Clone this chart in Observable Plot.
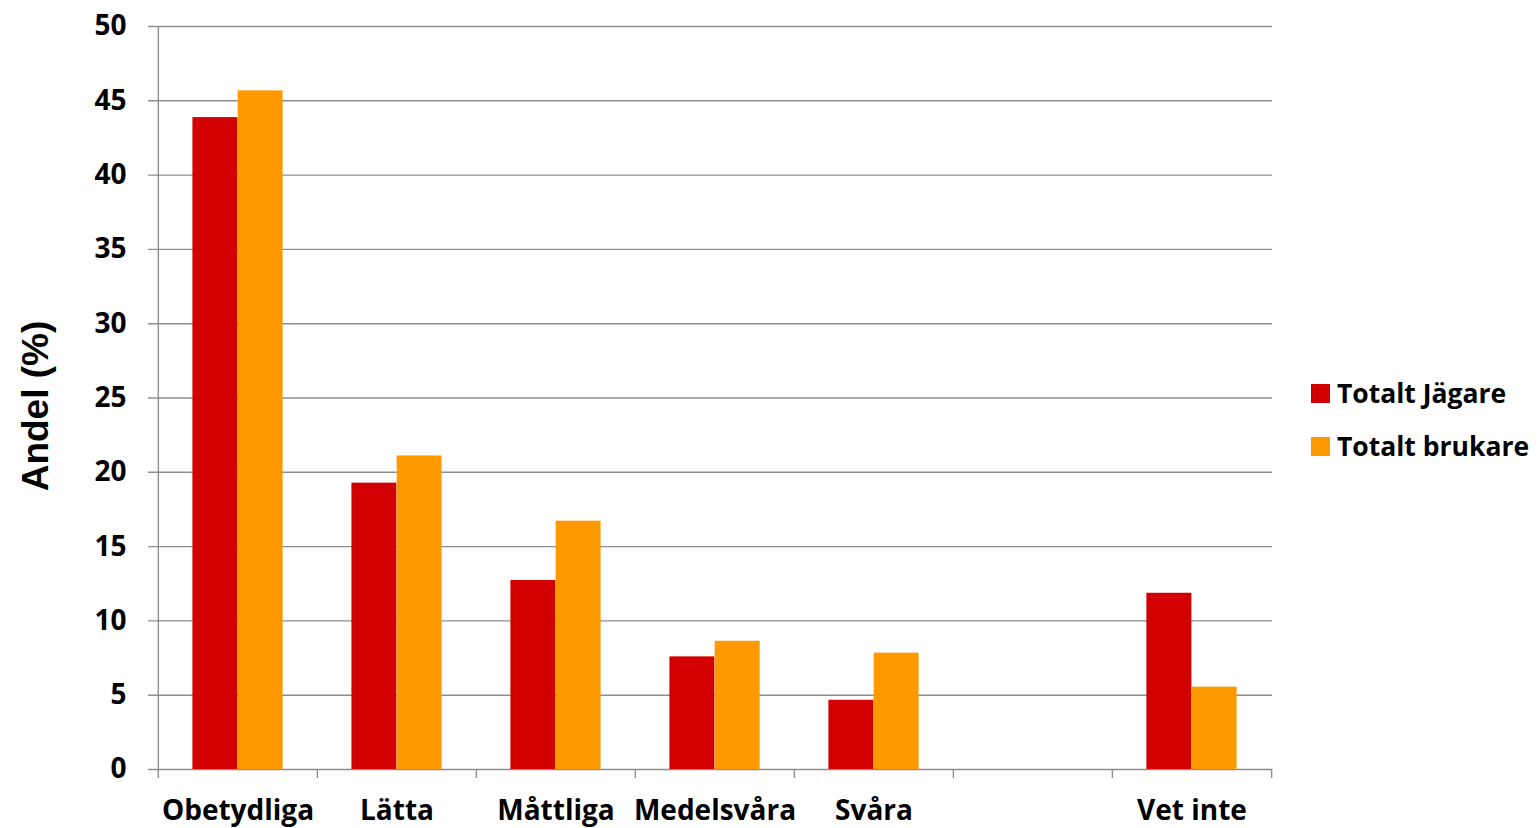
<!DOCTYPE html>
<html>
<head>
<meta charset="utf-8">
<script src="https://cdn.jsdelivr.net/npm/d3@7"></script>
<script src="https://cdn.jsdelivr.net/npm/@observablehq/plot@0.6"></script>
<style>
  html, body { margin: 0; padding: 0; background: #fff; }
  #wrap { position: relative; width: 1538px; height: 828px; overflow: hidden; }
  #legend { position: absolute; left: 1311px; top: 376px; font-family: "Open Sans", Lato, sans-serif; font-weight: 700; font-size: 26.5px; color: #000; }
  .row { display: flex; align-items: center; height: 34px; margin-bottom: 19px; white-space: nowrap; }
  .sw { width: 19px; height: 19px; margin-right: 7px; }
  #ylabel { position: absolute; left: 36px; top: 406px; transform: translate(-50%, -50%) rotate(-90deg); font-family: "Liberation Sans", Arial, sans-serif; font-weight: 700; font-size: 37px; white-space: nowrap; color: #000; }
</style>
</head>
<body>
<div id="wrap"><div id="chart"></div><div id="legend"></div><div id="ylabel"></div></div>
<script>
const categories = ["Obetydliga", "Lätta", "Måttliga", "Medelsvåra", "Svåra", "", "Vet inte"];
const seriesNames = ["Totalt Jägare", "Totalt brukare"];
const jagare = [43.87, 19.27, 12.72, 7.58, 4.66, null, 11.86];
const brukare = [45.67, 21.1, 16.71, 8.63, 7.83, null, 5.54];
const yTicks = [0, 5, 10, 15, 20, 25, 30, 35, 40, 45, 50];
const yLabel = "Andel (%)";
const colors = ["#D20000", "#FF9900"];

const rowsJ = categories.map((c, i) => ({category: c, value: jagare[i]})).filter(d => d.value != null);
const rowsB = categories.map((c, i) => ({category: c, value: brukare[i]})).filter(d => d.value != null);

const width = 1538, height = 828;
const mL = 157, mR = 266, mT = 26, mB = 59;
const band = (width - mL - mR) / categories.length;
const outer = band * 0.216, barW = band * 0.284;
const grid = "#8e8e8e";
const tickFont = "'Open Sans', Lato, sans-serif";

const chart = Plot.plot({
  width, height,
  marginLeft: mL, marginRight: mR, marginTop: mT, marginBottom: mB,
  style: {background: "#fff", overflow: "visible"},
  x: {type: "band", domain: categories, padding: 0, axis: null},
  y: {domain: [0, 50], axis: null},
  marks: [
    Plot.ruleY(yTicks, {stroke: grid, strokeWidth: 1.4, insetLeft: -9}),
    Plot.ruleX([categories[0]], {y1: 0, y2: 50, dx: -band / 2, stroke: grid, strokeWidth: 1.4}),
    Plot.barY(rowsJ, {x: "category", y: "value", fill: colors[0], insetLeft: outer, insetRight: band - outer - barW}),
    Plot.barY(rowsB, {x: "category", y: "value", fill: colors[1], insetLeft: outer + barW, insetRight: outer}),
    Plot.axisX({ticks: categories, tickSize: 9, stroke: grid, strokeWidth: 1.4, dx: -band / 2, text: null, label: null}),
    Plot.axisX({ticks: [categories[categories.length - 1]], tickSize: 9, stroke: grid, strokeWidth: 1.4, dx: band / 2, text: null, label: null}),
    Plot.axisX({ticks: categories, tickSize: 0, tickPadding: 31, fontSize: 28, fontWeight: 700, fontFamily: tickFont, fill: "#000", label: null}),
    Plot.axisY({ticks: yTicks, tickSize: 0, tickPadding: 31, fontSize: 28, fontWeight: 700, fontFamily: tickFont, fill: "#000", label: null})
  ]
});
document.getElementById("chart").appendChild(chart);
document.getElementById("ylabel").textContent = yLabel;

const legend = document.getElementById("legend");
seriesNames.forEach((name, i) => {
  const row = document.createElement("div");
  row.className = "row";
  const sw = document.createElement("div");
  sw.className = "sw";
  sw.style.background = colors[i];
  const label = document.createElement("span");
  label.textContent = name;
  row.appendChild(sw);
  row.appendChild(label);
  legend.appendChild(row);
});
</script>
</body>
</html>
